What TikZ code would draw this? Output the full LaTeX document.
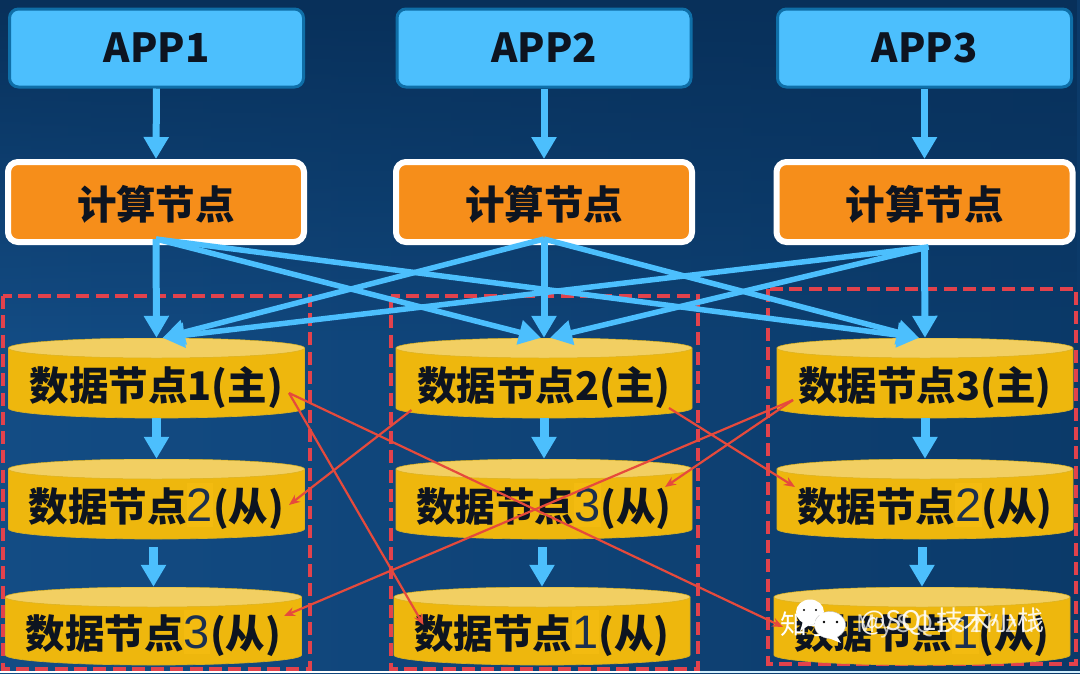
\documentclass[tikz,border=0pt]{standalone}
\usepackage{fontspec}
\usetikzlibrary{arrows.meta,fadings}
\newfontfamily\cjk{Noto Sans CJK SC}
\newfontfamily\cjkwide[LetterSpace=18]{Noto Sans CJK SC}
\newfontfamily\thinfont{Liberation Sans}
\definecolor{bgL}{HTML}{134C84}
\definecolor{bgR}{HTML}{0B3A69}
\definecolor{bgT}{HTML}{08305A}
\definecolor{appfill}{HTML}{4CBFFD}
\definecolor{appedge}{HTML}{0F6FA8}
\definecolor{orangefill}{HTML}{F68E1A}
\definecolor{goldbody}{HTML}{EEB70D}
\definecolor{goldtop}{HTML}{F2CF62}
\definecolor{goldedge}{HTML}{D9B020}
\definecolor{patchy}{HTML}{F3BB10}
\definecolor{dashred}{HTML}{E2424C}
\definecolor{arrowred}{HTML}{E64A3C}
\definecolor{inkk}{HTML}{0D1420}
\definecolor{thindigit}{HTML}{1B3050}
\newcommand{\dbdigit}[1]{\setbox0\hbox{\thinfont\mdseries\fontsize{47pt}{47pt}\selectfont #1}\rlap{\textcolor{patchy}{\rule[-6pt]{\wd0}{44pt}}}\textcolor{thindigit}{\box0}}
\newcommand{\dbtext}[1]{\smash{\raisebox{-22pt}{\cjk\bfseries\fontsize{39.5pt}{40pt}\selectfont #1}}}
\newcommand{\comptext}{\smash{\raisebox{-17pt}{计算节点}}}
\tikzset{
  x=1pt,y=-1pt,
  appbox/.style={rectangle,rounded corners=9pt,draw=appedge,line width=3pt,fill=appfill,text=inkk,
    minimum width=294pt,minimum height=78pt,inner sep=0pt,font=\cjk\bfseries\fontsize{40pt}{42pt}\selectfont},
  compbox/.style={rectangle,rounded corners=10pt,draw=white,line width=6pt,fill=orangefill,text=inkk,
    minimum width=296pt,minimum height=80pt,inner sep=0pt,font=\cjk\bfseries\fontsize{39.5pt}{42pt}\selectfont},
  dbbox/.style={rectangle,minimum width=297pt,minimum height=#1,inner sep=0pt,text=inkk,
    path picture={
      \pgfmathsetmacro{\hh}{#1/2-10}
      \fill[goldbody,draw=goldedge,line width=0.7pt]
        ([xshift=-148pt,yshift=\hh pt]path picture bounding box.center)
        -- ([xshift=-148pt,yshift=-\hh pt]path picture bounding box.center)
        arc[start angle=180,end angle=360,x radius=148pt,y radius=10pt]
        -- ([xshift=148pt,yshift=\hh pt]path picture bounding box.center) -- cycle;
      \fill[goldtop,draw=goldedge,line width=0.5pt]
        ([yshift=\hh pt]path picture bounding box.center) ellipse[x radius=148pt,y radius=10pt];
    }},
  bluearr/.style={draw=appfill,line width=7pt,-{Triangle[length=22pt,width=24pt]}},
  crossarr/.style={draw=appfill,line width=5.5pt,-{Triangle[length=22pt,width=24pt]}},
  shortarr/.style={draw=appfill,line width=9pt,-{Triangle[length=22pt,width=24pt]}},
  redarr/.style={draw=arrowred,line width=2.2pt,-{Stealth[length=11pt,width=9pt]}},
  dashbox/.style={draw=dashred,line width=4.5pt,dash pattern=on 13pt off 6.3pt},
  wm/.style={inner sep=0pt,text=white,anchor=west},
}
\begin{document}
\begin{tikzpicture}
\useasboundingbox (0,0) rectangle (1080,673);
% background
\shade[left color=bgL,right color=bgR] (0,0) rectangle (1080,673);
\fill[bgT,path fading=south] (0,0) rectangle (1080,340);
\fill[white] (0,671) rectangle (700,673);
\fill[appfill!25] (700,671) rectangle (1080,673);
\fill[black] (12.5,28) circle[radius=0.6];
% dashed groups
\draw[dashbox] (3,296) rectangle (310,669);
\draw[dashbox] (391,296) rectangle (698,669);
\draw[dashbox] (768,289) rectangle (1076,664);
% application row
\node[appbox] (a1) at (156.5,48) {APP1};
\node[appbox] (a2) at (544,48) {APP2};
\node[appbox] (a3) at (924.5,48) {APP3};
% compute row
\node[compbox] (c1) at (156,202) {\comptext};
\node[compbox] (c2) at (544,202) {\comptext};
\node[compbox] (c3) at (924.5,202) {\comptext};
% data nodes
\node[dbbox=80pt] (d1a) at (156.5,378) {\dbtext{数据节点1(主)}};
\node[dbbox=80pt] (d1b) at (156.5,499) {\dbtext{数据节点\dbdigit{2}(从)}};
\node[dbbox=78pt] (d1c) at (153.5,626) {\dbtext{数据节点\dbdigit{3}(从)}};
\node[dbbox=80pt] (d2a) at (544,378) {\dbtext{数据节点2(主)}};
\node[dbbox=80pt] (d2b) at (544,499) {\dbtext{数据节点\dbdigit{3}(从)}};
\node[dbbox=78pt] (d2c) at (542,626) {\dbtext{数据节点\dbdigit{1}(从)}};
\node[dbbox=80pt] (d3a) at (925,378) {\dbtext{数据节点3(主)}};
\node[dbbox=80pt] (d3b) at (925,499) {\dbtext{数据节点\dbdigit{2}(从)}};
\node[dbbox=78pt] (d3c) at (922,626) {\dbtext{数据节点\dbdigit{1}(从)}};
% app to compute
\draw[bluearr] (a1.south) -- (c1.north);
\draw[bluearr] (a2.south) -- (c2.north);
\draw[bluearr] (a3.south) -- (c3.north);
% compute to data
\draw[bluearr] ([yshift=6pt]c1.south) -- (d1a.north);
\draw[bluearr] ([yshift=6pt]c2.south) -- (d2a.north);
\draw[bluearr] ([yshift=-2pt]c3.south) -- (d3a.north);
\draw[crossarr] ([yshift=6pt]c1.south) -- ([xshift=-3pt]d2a.north);
\draw[crossarr] ([yshift=6pt]c1.south) -- ([xshift=-6pt]d3a.north);
\draw[crossarr] ([yshift=6pt]c2.south) -- ([xshift=6pt]d1a.north);
\draw[crossarr] ([yshift=6pt]c2.south) -- ([xshift=-6pt]d3a.north);
\draw[crossarr] ([xshift=4pt,yshift=-2pt]c3.south) -- ([xshift=6pt]d1a.north);
\draw[crossarr] ([xshift=4pt,yshift=-2pt]c3.south) -- ([xshift=6pt]d2a.north);
% data to data
\draw[shortarr] (d1a.south) -- (d1b.north);
\draw[shortarr] ([xshift=-3pt,yshift=-8pt]d1b.south) -- (d1c.north);
\draw[shortarr] (d2a.south) -- (d2b.north);
\draw[shortarr] ([xshift=-2pt,yshift=-8pt]d2b.south) -- (d2c.north);
\draw[shortarr] (d3a.south) -- (d3b.north);
\draw[shortarr] ([xshift=-3pt,yshift=-8pt]d3b.south) -- (d3c.north);
% replication
\draw[redarr] ([xshift=132.5pt,yshift=-15pt]d1a.center) -- ([xshift=-118.5pt,yshift=1pt]d2c.center);
\draw[redarr] ([xshift=132.5pt,yshift=-15pt]d1a.center) -- ([xshift=-139pt,yshift=-1pt]d3c.center);
\draw[redarr] ([xshift=-132.5pt,yshift=-32pt]d2a.center) -- ([xshift=132.5pt,yshift=-6pt]d1b.center);
\draw[redarr] ([xshift=125pt,yshift=-30pt]d2a.center) -- ([xshift=-130pt,yshift=12pt]d3b.center);
\draw[redarr] ([xshift=-132pt,yshift=-22pt]d3a.center) -- ([xshift=121pt,yshift=12pt]d2b.center);
\draw[redarr] ([xshift=-132pt,yshift=-22pt]d3a.center) -- ([xshift=130.5pt,yshift=10pt]d1c.center);
% watermark
\fill[white] (810,612) ellipse[x radius=14,y radius=12.5];
\fill[white] (803,622) -- (800,631) -- (811,624) -- cycle;
\fill[black] (804,610) circle[radius=1.2] (816,610) circle[radius=1.2];
\fill[white,draw=gray!50,line width=0.4pt] (830,625) ellipse[x radius=15.5,y radius=13.5];
\fill[white] (836,635) -- (841,643) -- (826,637) -- cycle;
\fill[black] (824,622) circle[radius=1.3] (837,622) circle[radius=1.3];
\node[wm,font=\cjk\fontsize{27pt}{28pt}\selectfont] (w1) at (780,624) {知乎};
\node[wm,font=\cjk\fontsize{27pt}{28pt}\selectfont,text opacity=0.9] (w2) at (860,622) {@SQL技术小栈};
\node[wm,font=\cjkwide\fontsize{24pt}{26pt}\selectfont,text opacity=0.7] (w3) at (856,626) {MySQLszhzu};
\end{tikzpicture}
\end{document}
